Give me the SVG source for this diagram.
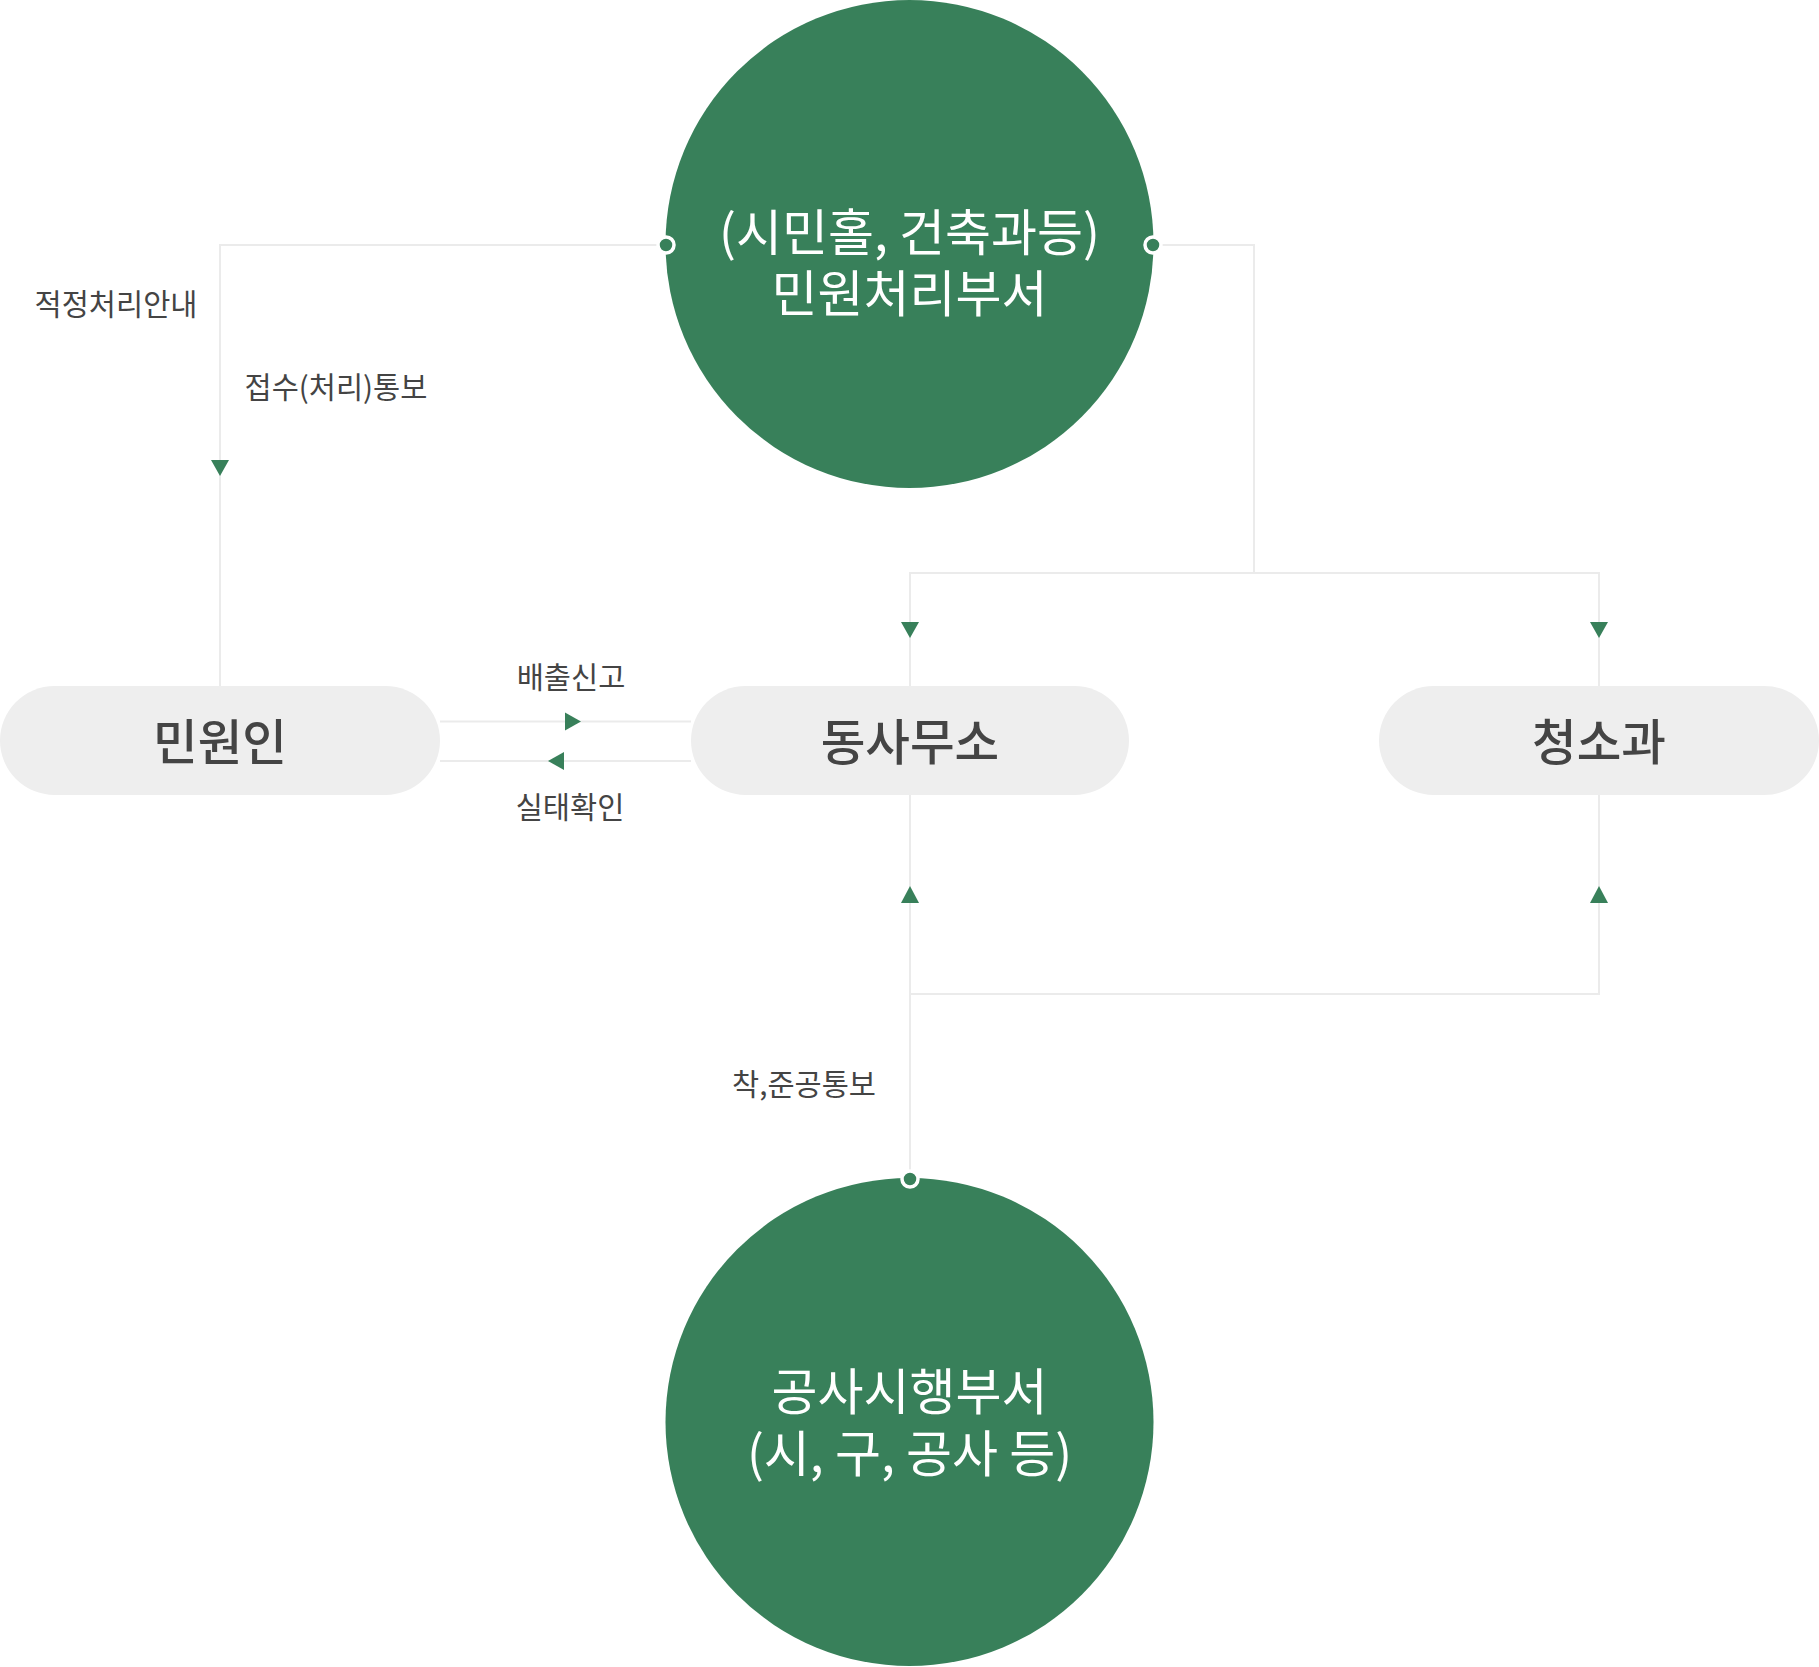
<svg xmlns="http://www.w3.org/2000/svg" width="1819" height="1667" viewBox="0 0 1819 1667">
<style>
.ln{fill:none;stroke:#ebebeb;stroke-width:2}
.ar{fill:#38805a}
.dot{fill:#38805a;stroke:#fff;stroke-width:3.5}
.circ{fill:#38805a}
.pill{fill:#eeeeee}
.ct{font-family:"Noto Sans CJK KR","Noto Sans",sans-serif;font-size:50px;fill:#fff;text-anchor:middle;dominant-baseline:central}
.pt{font-family:"Noto Sans CJK KR","Noto Sans",sans-serif;font-size:48.5px;font-weight:500;fill:#444;text-anchor:middle;dominant-baseline:central}
.lb{font-family:"Noto Sans CJK KR","Noto Sans",sans-serif;font-size:29.5px;fill:#444;text-anchor:middle;dominant-baseline:central}
</style>
<rect width="1819" height="1667" fill="#fff"/>
<g id="connectors">
<polyline class="ln" points="666,245 220,245 220,686"/>
<polyline class="ln" points="1153,245 1254,245 1254,573"/>
<polyline class="ln" points="910,686 910,573 1599,573 1599,686"/>
<line class="ln" x1="440" y1="721.5" x2="691" y2="721.5"/>
<line class="ln" x1="440" y1="761" x2="691" y2="761"/>
<polyline class="ln" points="910,795 910,994 1599,994 1599,795"/>
<line class="ln" x1="910" y1="994" x2="910" y2="1179"/>
<path class="ar" d="M211,460 L229,460 L220,476 Z"/>
<path class="ar" d="M901,622 L919,622 L910,638 Z"/>
<path class="ar" d="M1590,622 L1608,622 L1599,638 Z"/>
<path class="ar" d="M565,712.5 L565,730.5 L581,721.5 Z"/>
<path class="ar" d="M564,752 L564,770 L548,761 Z"/>
<path class="ar" d="M901,903 L919,903 L910,886 Z"/>
<path class="ar" d="M1590,903 L1608,903 L1599,886 Z"/>
<text class="lb" x="116" y="302">적정처리안내</text>
<text class="lb" x="336" y="385">접수(처리)통보</text>
<text class="lb" x="571" y="675">배출신고</text>
<text class="lb" x="570" y="805">실태확인</text>
<text class="lb" x="804" y="1082">착,준공통보</text>
</g>
<g id="node-top">
<circle class="circ" cx="909.5" cy="244" r="244"/>
<text class="ct" x="909.5" y="229">(시민홀, 건축과등)</text>
<text class="ct" x="909.5" y="290">민원처리부서</text>
<circle class="dot" cx="666" cy="245" r="8"/>
<circle class="dot" cx="1153" cy="245" r="8"/>
</g>
<g id="node-minwonin">
<rect class="pill" x="0" y="686" width="440" height="109" rx="54.5"/>
<text class="pt" x="220" y="739">민원인</text>
</g>
<g id="node-dongsamuso">
<rect class="pill" x="691" y="686" width="438" height="109" rx="54.5"/>
<text class="pt" x="910" y="739">동사무소</text>
</g>
<g id="node-cheongso">
<rect class="pill" x="1379" y="686" width="440" height="109" rx="54.5"/>
<text class="pt" x="1599" y="739">청소과</text>
</g>
<g id="node-bottom">
<circle class="circ" cx="909.5" cy="1422" r="244"/>
<text class="ct" x="909.5" y="1388">공사시행부서</text>
<text class="ct" x="909.5" y="1450">(시, 구, 공사 등)</text>
<circle class="dot" cx="910" cy="1179" r="8"/>
</g>
</svg>
